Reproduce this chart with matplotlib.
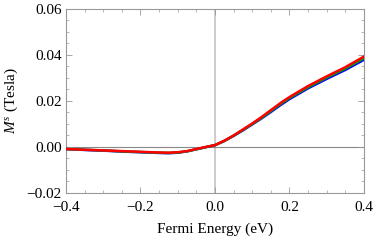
import matplotlib
matplotlib.use("Agg")
import matplotlib.pyplot as plt
from matplotlib.ticker import MultipleLocator

energy = [-0.40, -0.35, -0.30, -0.25, -0.20, -0.15, -0.125, -0.10, -0.075, -0.05, -0.025,
          0.00, 0.025, 0.05, 0.075, 0.10, 0.125, 0.15, 0.175, 0.20, 0.25, 0.30, 0.35, 0.40]
m_red = [-0.0009, -0.0012, -0.0015, -0.0018, -0.0021, -0.0024, -0.0025, -0.0023, -0.0018,
         -0.0009, 0.0000, 0.0008, 0.0027, 0.0050, 0.0076, 0.0102, 0.0130, 0.0160, 0.0190,
         0.0217, 0.0265, 0.0307, 0.0347, 0.0393]
m_green = [-0.0009, -0.0012, -0.0015, -0.0019, -0.0022, -0.0025, -0.0026, -0.0024, -0.0019,
           -0.0010, -0.0001, 0.0008, 0.0026, 0.0049, 0.0074, 0.0100, 0.0127, 0.0156, 0.0186,
           0.0213, 0.0260, 0.0302, 0.0341, 0.0386]
m_blue = [-0.0009, -0.0013, -0.0016, -0.0020, -0.0023, -0.0026, -0.0027, -0.0025, -0.0019,
          -0.0010, -0.0001, 0.0008, 0.0026, 0.0048, 0.0072, 0.0098, 0.0124, 0.0152, 0.0181,
          0.0208, 0.0255, 0.0296, 0.0335, 0.0379]
x_tick_labels = ['\u22120.4', '\u22120.2', '0.0', '0.2', '0.4']
y_tick_labels = ['\u22120.02', '0.00', '0.02', '0.04', '0.06']

plt.rcParams['font.family'] = ['Liberation Serif', 'DejaVu Serif']
plt.rcParams['mathtext.fontset'] = 'custom'
plt.rcParams['mathtext.it'] = 'Liberation Serif:italic'
plt.rcParams['mathtext.rm'] = 'Liberation Serif'

fig = plt.figure(figsize=(3.74, 2.40), dpi=100)
ax = fig.add_axes([0.1765, 0.196, 0.7965, 0.7665])

ax.axvline(0, color='#c8c8c8', lw=1.3, zorder=1)
ax.axhline(0, color='#888888', lw=0.8, zorder=1)

ax.plot(energy, m_blue, color='#0000ff', lw=1.8, zorder=3)
ax.plot(energy, m_green, color='#00a000', lw=1.8, zorder=4)
ax.plot(energy, m_red, color='#ff0000', lw=1.8, zorder=5)

ax.set_xlim(-0.4, 0.4)
ax.set_ylim(-0.02, 0.06)
ax.xaxis.set_minor_locator(MultipleLocator(0.05))
ax.yaxis.set_minor_locator(MultipleLocator(0.005))
ax.set_xticks([-0.4, -0.2, 0.0, 0.2, 0.4])
ax.set_xticklabels(x_tick_labels)
ax.set_yticks([-0.02, 0.0, 0.02, 0.04, 0.06])
ax.set_yticklabels(y_tick_labels)

ax.tick_params(which='both', direction='in', top=True, right=True, color='#999999',
               labelsize=11)
ax.tick_params(axis='x', which='major', pad=6)
ax.tick_params(axis='y', which='major', pad=3)
ax.tick_params(which='major', length=4, width=0.6)
ax.tick_params(which='minor', length=2.5, width=0.5)
for s in ax.spines.values():
    s.set_color('#999999')
    s.set_linewidth(0.8)

ax.set_xlabel('Fermi Energy (eV)', fontsize=11, labelpad=6)
ax.set_ylabel('$M^s$ (Tesla)', fontsize=11, labelpad=5)

fig.savefig('out.png', dpi=100)
